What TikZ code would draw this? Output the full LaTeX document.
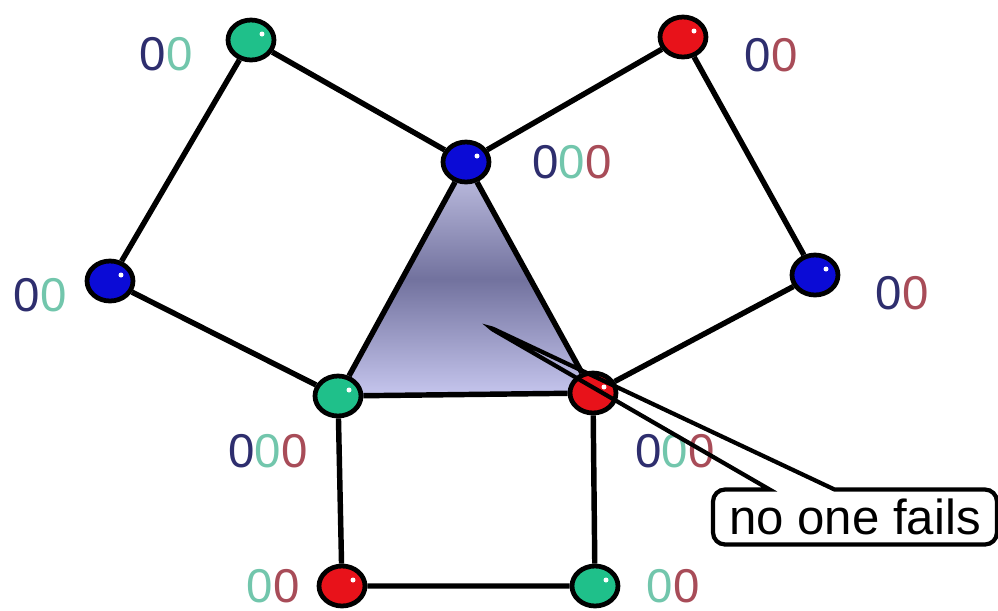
\documentclass[tikz,border=0pt]{standalone}
\usepackage{fontspec}
\setmainfont{Liberation Sans}
\usetikzlibrary{shapes.geometric,shapes.callouts,backgrounds}
\definecolor{ballgreen}{HTML}{1FC08A}
\definecolor{ballred}{HTML}{E8121A}
\definecolor{ballblue}{HTML}{0B0BD6}
\definecolor{dnavy}{HTML}{2E2E6E}
\definecolor{dgreen}{HTML}{72C6AC}
\definecolor{dred}{HTML}{A84C58}
\definecolor{simtop}{HTML}{C4C4E6}
\definecolor{simmid}{HTML}{72729E}
\definecolor{simbot}{HTML}{C6C6EE}
\newcommand{\za}{{\color{dnavy}0}}
\newcommand{\zb}{{\color{dgreen}0}}
\newcommand{\zc}{{\color{dred}0}}

\begin{document}
\begin{tikzpicture}[x=0.02cm,y=-0.02cm,
 ball/.style={ellipse,draw,line width=2.7pt,minimum width=0.92cm,minimum height=0.8cm,inner sep=0pt,
  path picture={\fill[white] ([xshift=0.22cm,yshift=0.12cm]path picture bounding box.center) circle (0.05cm);}},
 wire/.style={line width=3.1pt},
 digits/.style={font=\fontsize{27}{30}\selectfont,inner sep=0pt},
 bubble/.style={rectangle callout,draw,line width=2.4pt,rounded corners=0.24cm,
  minimum width=5.68cm,minimum height=1.1cm,inner sep=0pt,font=\fontsize{28}{32}\selectfont}]
\useasboundingbox (0,0) rectangle (998,610);

% processes
\node[ball,fill=ballgreen] (g1) at (251,40) {};
\node[ball,fill=ballred] (r1) at (683,37) {};
\node[ball,fill=ballblue] (b1) at (466,162) {};
\node[ball,fill=ballblue] (b2) at (110,281) {};
\node[ball,fill=ballblue] (b3) at (815,275) {};
\node[ball,fill=ballgreen] (g2) at (338,396) {};
\node[ball,fill=ballred] (r2) at (593,393) {};
\node[ball,fill=ballred] (r3) at (342,586) {};
\node[ball,fill=ballgreen] (g3) at (595,586) {};

% shaded simplex
\begin{scope}[on background layer]
\shade[top color=simtop,bottom color=simbot,middle color=simmid]
 (b1.center) -- (g2.center) -- (r2.center) -- cycle;
\end{scope}

\draw[wire] (g1) -- (b1) (g1) -- (b2) (b2) -- (g2);
\draw[wire] (r1) -- (b1) (r1) -- (b3) (b3) -- (r2);
\draw[wire] (b1) -- (g2) (b1) -- (r2) (g2) -- (r2);
\draw[wire] (g2) -- (r3) (r2) -- (g3) (r3) -- (g3);

% views
\node[digits] (lg1) at (166,54) {\za\zb};
\node[digits] (lr1) at (771,55) {\za\zc};
\node[digits] (lb1) at (572,162) {\za\zb\zc};
\node[digits] (lb2) at (40,295) {\za\zb};
\node[digits] (lb3) at (902,293) {\za\zc};
\node[digits] (lg2) at (268,451) {\za\zb\zc};
\node[digits] (lr2) at (675,451) {\za\zb\zc};
\node[digits] (lr3) at (273,586) {\zb\zc};
\node[digits] (lg3) at (673,586) {\zb\zc};

\coordinate (tip) at (485,325);
\node[bubble,callout absolute pointer={(tip)},callout pointer width=1.3cm] (fails) at (855,517) {no one fails};
\end{tikzpicture}
\end{document}
